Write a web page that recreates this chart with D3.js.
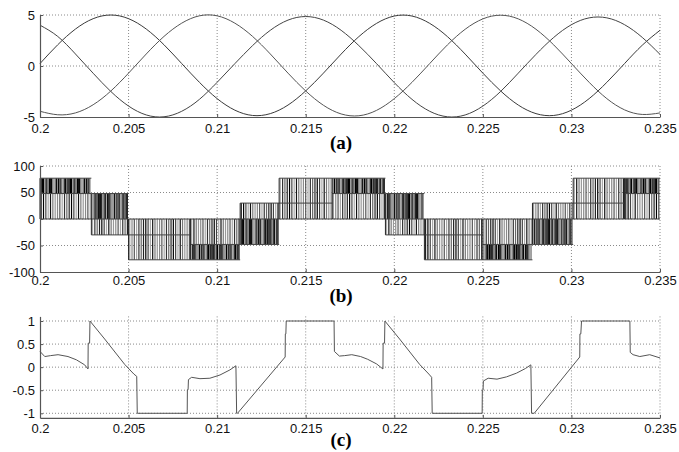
<!DOCTYPE html>
<html><head><meta charset="utf-8">
<script src="https://cdn.jsdelivr.net/npm/d3@7"></script>
<style>
body{margin:0;background:#fff;}
svg{display:block;}
</style></head><body>
<svg id="chart" width="679" height="452"></svg>
<script>
// ---------- shared x axis ----------
const timeTicks = [0.2,0.205,0.21,0.215,0.22,0.225,0.23,0.235];
const timeTickLabels = ["0.2","0.205","0.21","0.215","0.22","0.225","0.23","0.235"];

// ---------- (a) three-phase references ----------
const sampleTime = [0.200,0.201,0.202,0.203,0.204,0.205,0.206,0.207,0.208,0.209,0.210,0.211,0.212,0.213,0.214,0.215,0.216,0.217,0.218,0.219,0.220,0.221,0.222,0.223,0.224,0.225,0.226,0.227,0.228,0.229,0.230,0.231,0.232,0.233,0.234,0.235];
const phaseA = [0.24,2.08,3.62,4.64,5.0,4.64,3.62,2.08,0.24,-1.60,-3.20,-4.33,-4.85,-4.67,-3.83,-2.44,-0.70,1.17,2.88,4.18,4.90,4.90,4.18,2.88,1.17,-0.70,-2.44,-3.83,-4.67,-4.85,-4.33,-3.20,-1.60,0.24,2.04,3.50];
const phaseB = [-4.44,-4.78,-4.60,-3.80,-2.45,-0.70,1.18,2.90,4.20,4.92,4.92,4.20,2.90,1.18,-0.70,-2.45,-3.85,-4.70,-4.88,-4.35,-3.20,-1.60,0.24,2.07,3.60,4.62,4.98,4.62,3.60,2.07,0.24,-1.60,-3.20,-4.30,-4.75,-4.60];
const phaseC = [4.00,2.90,1.18,-0.71,-2.50,-3.93,-4.80,-4.98,-4.44,-3.27,-1.60,0.23,2.00,3.50,4.50,4.85,4.50,3.50,2.00,0.23,-1.63,-3.27,-4.44,-4.98,-4.80,-3.93,-2.50,-0.70,1.14,2.80,4.05,4.72,4.72,4.05,2.80,1.14];
const ticksA = [-5,0,5];
const labelsA = ["-5","0","5"];

// ---------- (b) multilevel PWM voltage ----------
const segStart = [0.2000,0.2029,0.2050,0.2085,0.2113,0.2135,0.2165,0.2195,0.2217,0.2250,0.2278,0.2301,0.2330];
const segEnd   = [0.2029,0.2050,0.2085,0.2113,0.2135,0.2165,0.2195,0.2217,0.2250,0.2278,0.2301,0.2330,0.2350];
const segLow   = [0,-30,-77,-77,-48,0,0,-30,-77,-77,-48,0,0];
const segMid   = [48,0,-30,-48,0,30,48,0,-30,-48,0,30,48];
const segHigh  = [77,48,0,0,30,77,77,48,0,0,30,77,77];
const segDense = ["upper","upper","none","lower","lower","none","upper","upper","none","lower","lower","none","upper"];
const switchPeriod = 0.00013;
const ticksB = [-100,-50,0,50,100];
const labelsB = ["-100","-50","0","50","100"];

// ---------- (c) modulation signal ----------
const cTime = [0.20000,0.20027,0.20060,0.20102,0.20158,0.20205,0.20252,0.20271,0.20272,0.20280,0.20282,0.20365,0.20478,0.20530,0.20546,0.20549,
  0.20831,0.20832,0.20836,0.20838,0.20856,0.20903,0.20959,0.21016,0.21072,0.21106,0.21110,0.21115,0.21384,0.21385,0.21388,0.21390,
  0.21660,0.21662,0.21690,0.21720,0.21760,0.21810,0.21850,0.21900,0.21936,0.21937,0.21945,0.21947,0.22030,0.22143,0.22195,0.22211,0.22214,
  0.22496,0.22497,0.22501,0.22503,0.22530,0.22580,0.22634,0.22690,0.22740,0.22771,0.22775,0.22790,0.23047,0.23048,0.23053,0.23057,
  0.23330,0.23332,0.23348,0.23386,0.23442,0.23500];
const cValue = [0.34,0.23,0.25,0.27,0.23,0.16,0.05,-0.04,0.52,0.52,1.0,0.61,0.06,-0.15,-0.20,-1.0,
  -1.0,-0.49,-0.49,-0.27,-0.22,-0.25,-0.24,-0.17,-0.06,0.03,-1.0,-1.0,0.22,0.72,0.72,1.0,
  1.0,0.34,0.24,0.25,0.27,0.23,0.17,0.07,-0.04,0.52,0.52,1.0,0.61,0.06,-0.15,-0.22,-1.0,
  -1.0,-0.50,-0.50,-0.30,-0.24,-0.26,-0.21,-0.13,-0.03,0.05,-1.0,-1.0,0.22,0.72,0.72,1.0,
  1.0,0.32,0.27,0.23,0.27,0.20];
const ticksC = [-1,-0.5,0,0.5,1];
const labelsC = ["-1","-0.5","0","0.5","1"];

// ---------- drawing ----------
const svg = d3.select("#chart");
const x = d3.scaleLinear().domain([0.2,0.235]).range([40,660]);
const FONT = "'Liberation Sans', Arial, sans-serif";

const panels = [
  {y: d3.scaleLinear().domain([-5,5]).range([117,15]), ticks: ticksA, labels: labelsA, pad: 7, caption: "(a)", capY: 149},
  {y: d3.scaleLinear().domain([-100,100]).range([272,166]), ticks: ticksB, labels: labelsB, pad: 4, caption: "(b)", capY: 302},
  {y: d3.scaleLinear().domain([-1.1,1.1]).range([417.9,316.4]), ticks: ticksC, labels: labelsC, pad: 6, caption: "(c)", capY: 446}
];

panels.forEach((p, idx) => {
  const g = svg.append("g");
  const [yb, yt] = p.y.range();
  g.append("g").selectAll("line").data(timeTicks.slice(1)).join("line")
    .attr("x1", d => x(d)).attr("x2", d => x(d)).attr("y1", yt).attr("y2", yb)
    .attr("stroke", "#8a8a8a").attr("stroke-width", 1).attr("stroke-dasharray", "1,2");
  g.append("g").selectAll("line").data(p.ticks.filter(v => Math.abs(p.y(v) - yb) > 1)).join("line")
    .attr("x1", 40).attr("x2", 660).attr("y1", d => p.y(d)).attr("y2", d => p.y(d))
    .attr("stroke", "#8a8a8a").attr("stroke-width", 1).attr("stroke-dasharray", "1,2");
  p.g = g;
});

// (a) lines
{
  const p = panels[0];
  const line = d3.line().x((d,i) => x(sampleTime[i])).y(d => p.y(d)).curve(d3.curveNatural);
  [phaseA, phaseB, phaseC].forEach((s, k) => {
    p.g.append("path").datum(s).attr("d", line).attr("fill", "none")
      .attr("stroke", ["#3a3a3a","#555","#444"][k]).attr("stroke-width", 1);
  });
}

// (b) PWM blocks
{
  const p = panels[1];
  const gb = p.g.append("g");
  const shades = ["#222","#8a8a8a","#444","#a8a8a8","#111","#666","#999","#000","#555","#aaa","#333","#777"];
  segStart.forEach((s, k) => {
    const e = segEnd[k];
    const n = Math.max(1, Math.round((e - s) / switchPeriod));
    const dt = (e - s) / n;
    for (let i = 0; i < n; i++) {
      const tc = s + (i + 0.5) * dt;
      gb.append("line").attr("x1", x(tc)).attr("x2", x(tc))
        .attr("y1", p.y(segLow[k])).attr("y2", p.y(segHigh[k]))
        .attr("stroke", shades[(i * 7 + k * 3) % shades.length]).attr("stroke-width", 1.2);
      if (segDense[k] !== "none") {
        const a = segDense[k] === "upper" ? segMid[k] : segLow[k];
        const b = segDense[k] === "upper" ? segHigh[k] : segMid[k];
        const t2 = tc + dt / 2;
        if (t2 < e) {
          gb.append("line").attr("x1", x(t2)).attr("x2", x(t2))
            .attr("y1", p.y(a)).attr("y2", p.y(b))
            .attr("stroke", shades[(i * 5 + k) % 4 === 1 ? 6 : ((i * 3 + k) % 3 === 0 ? 7 : 4)]).attr("stroke-width", 1.3);
        }
      }
    }
    [segLow[k], segMid[k], segHigh[k]].forEach(v => {
      gb.append("line").attr("x1", x(s)).attr("x2", x(e)).attr("y1", p.y(v)).attr("y2", p.y(v))
        .attr("stroke", "#444").attr("stroke-width", 1);
    });
    gb.append("line").attr("x1", x(s)).attr("x2", x(s))
      .attr("y1", p.y(segLow[k])).attr("y2", p.y(segHigh[k])).attr("stroke", "#222").attr("stroke-width", 1);
  });
}

// (c) line
{
  const p = panels[2];
  const line = d3.line().x((d,i) => x(cTime[i])).y(d => p.y(d));
  p.g.append("path").datum(cValue).attr("d", line).attr("fill", "none")
    .attr("stroke", "#555").attr("stroke-width", 1);
}

// axes and captions
panels.forEach(p => {
  const [yb, yt] = p.y.range();
  const ax = svg.append("g").attr("transform", `translate(0,${yb})`)
    .call(d3.axisBottom(x).tickValues(timeTicks).tickFormat((d,i) => timeTickLabels[i])
      .tickSizeInner(-3).tickSizeOuter(0).tickPadding(p.pad));
  const ay = svg.append("g").attr("transform", `translate(40,0)`)
    .call(d3.axisLeft(p.y).tickValues(p.ticks).tickFormat((d,i) => p.labels[i])
      .tickSizeInner(-3).tickSizeOuter(0).tickPadding(5));
  [ax, ay].forEach(a => {
    a.select(".domain").attr("stroke", "#555").attr("stroke-width", 1.2);
    a.selectAll(".tick line").attr("stroke", "#555");
    a.selectAll("text").attr("font-family", FONT).attr("font-size", 13).attr("fill", "#111");
  });
  svg.append("text").attr("x", 341).attr("y", p.capY).attr("text-anchor", "middle")
    .attr("font-family", "'Liberation Serif', 'Times New Roman', serif").attr("font-weight", "bold")
    .attr("font-size", 19).attr("fill", "#000").text(p.caption);
});
</script>
</body></html>
